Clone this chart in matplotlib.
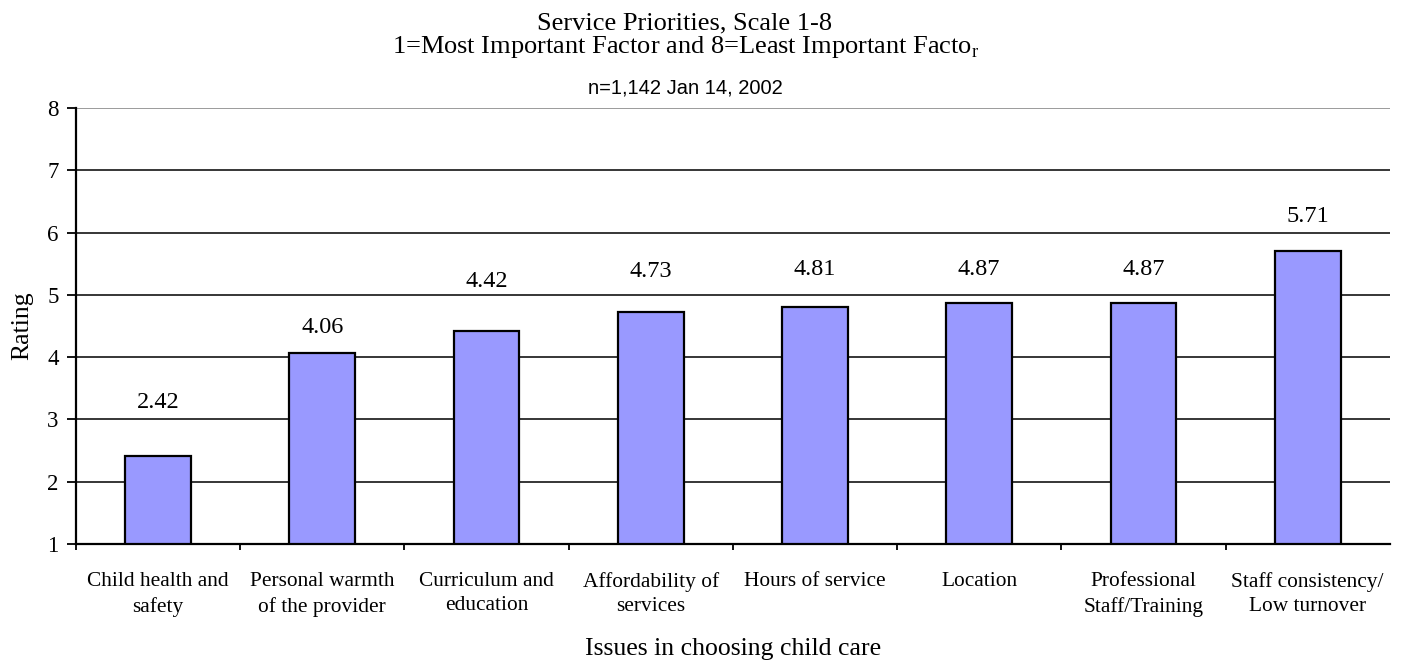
import matplotlib
matplotlib.use("Agg")
import matplotlib.pyplot as plt

# ----------------- DATA -----------------
categories = ["Child health and\nsafety", "Personal warmth\nof the provider",
              "Curriculum and\neducation", "Affordability of\nservices",
              "Hours of service", "Location", "Professional\nStaff/Training",
              "Staff consistency/\nLow turnover"]
ratings = [2.42, 4.06, 4.42, 4.73, 4.81, 4.87, 4.87, 5.71]
value_labels = ["2.42", "4.06", "4.42", "4.73", "4.81", "4.87", "4.87", "5.71"]
y_ticks = [1, 2, 3, 4, 5, 6, 7, 8]

# label baseline offsets above bar top (points)
label_offsets = [34, 14.7, 31.3, 25.3, 23.1, 20.4, 20.4, 20.6]

plt.rcParams['font.family'] = 'Liberation Serif'
plt.rcParams['mathtext.fontset'] = 'custom'
plt.rcParams['mathtext.rm'] = 'Liberation Serif'

fig = plt.figure(figsize=(14.01, 6.6), dpi=100)
ax = fig.add_axes([0.0542, 0.1758, 0.9378, 0.6606])

x = list(range(len(categories)))
ax.bar(x, [r - 1 for r in ratings], bottom=1, width=0.4, color='#9999FF',
       edgecolor='black', linewidth=1.6, zorder=3)

for xi, r, lab, off in zip(x, ratings, value_labels, label_offsets):
    ax.annotate(lab, (xi, r), xytext=(0, off), textcoords="offset points",
                ha='center', va='baseline', fontsize=17.5)

ax.set_xlim(-0.5, len(categories) - 0.5)
ax.set_ylim(1, 8)
ax.set_yticks(y_ticks)
ax.tick_params(axis='y', labelsize=16.5, length=6.5, width=1.3, pad=6, direction='out')

# ticks at category boundaries, labels centered
ax.set_xticks([i - 0.5 for i in x])
ax.set_xticklabels([])
ax.set_xticks(x, minor=True)
ax.set_xticklabels(categories, minor=True, fontsize=15.4, linespacing=1.35)
ax.tick_params(axis='x', which='major', length=4.5, width=1.3, direction='out')
ax.tick_params(axis='x', which='minor', length=0, pad=20.5)

for yv in y_ticks[1:-1]:
    ax.axhline(yv, color='black', linewidth=1.1, zorder=1)
ax.axhline(8, color='#808080', linewidth=1.1, zorder=1)

ax.spines['top'].set_visible(False)
ax.spines['right'].set_visible(False)
ax.spines['left'].set_linewidth(1.6)
ax.spines['bottom'].set_linewidth(1.6)

fig.text(22 / 1401, 1 - 326 / 660, "Rating", rotation=90, ha='center', va='center',
         fontsize=18.5)
fig.text(733 / 1401, 1 - 655 / 660, "Issues in choosing child care", ha='center',
         va='baseline', fontsize=18.5)

fig.text(685 / 1401, 1 - 29 / 660, "Service Priorities, Scale 1-8", ha='center',
         va='baseline', fontsize=19)
fig.text(686 / 1401, 1 - 53 / 660,
         r"1=Most Important Factor and 8=Least Important Facto$_{\mathrm{r}}$",
         ha='center', va='baseline', fontsize=19)
fig.text(685 / 1401, 1 - 93 / 660, "n=1,142 Jan 14, 2002", ha='center', va='baseline',
         fontsize=14.5, family='Liberation Sans')

fig.savefig("out.png", dpi=100)
